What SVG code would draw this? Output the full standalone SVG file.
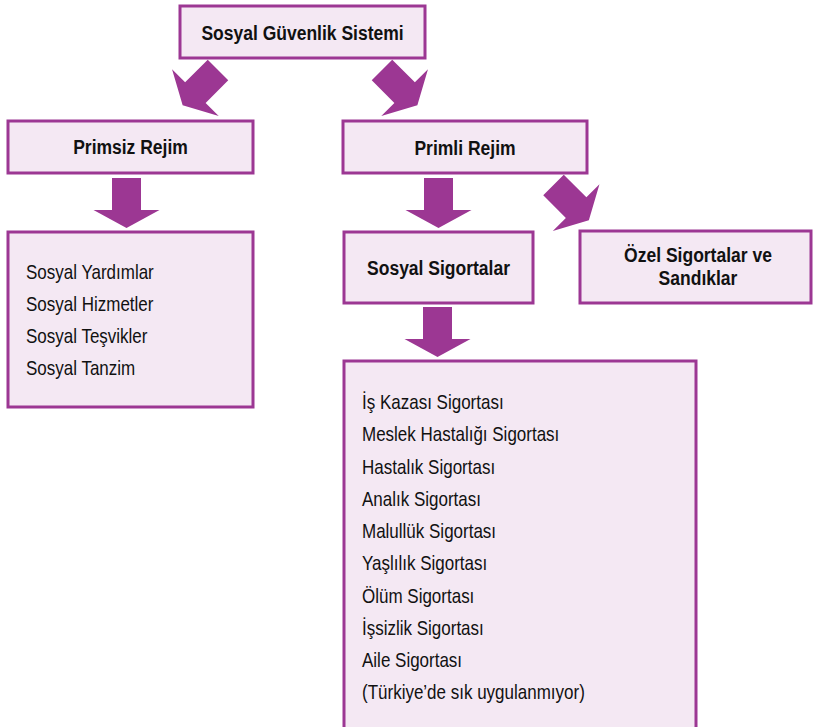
<svg xmlns="http://www.w3.org/2000/svg" xmlns:xlink="http://www.w3.org/1999/xlink" width="814" height="727" viewBox="0 0 814 727">
  <style>
    .box { fill: #f4e8f3; stroke: #9c3793; stroke-width: 3; }
    .arrow { fill: #9c3793; }
    .title { font-family: "Liberation Sans", Arial, sans-serif; font-size: 20px; font-weight: bold; fill: #111; text-anchor: middle; }
    .item { font-family: "Liberation Sans", Arial, sans-serif; font-size: 20px; fill: #111; }
  </style>
  <defs>
    <!-- block arrow pointing down, origin at the middle of the shaft top -->
    <polygon id="blockArrow" points="-14.5,0 14.5,0 14.5,32 33,32 0,50 -33,32 -14.5,32"/>
  </defs>

  <rect width="814" height="727" fill="#ffffff"/>

  <g id="connectors">
    <use xlink:href="#blockArrow" class="arrow" transform="translate(218 70) rotate(45)"/>
    <use xlink:href="#blockArrow" class="arrow" transform="translate(382 70) rotate(-45)"/>
    <use xlink:href="#blockArrow" class="arrow" transform="translate(126.5 178)"/>
    <use xlink:href="#blockArrow" class="arrow" transform="translate(438.5 178)"/>
    <use xlink:href="#blockArrow" class="arrow" transform="translate(553.5 185) rotate(-45)"/>
    <use xlink:href="#blockArrow" class="arrow" transform="translate(437.5 307)"/>
  </g>

  <g id="sosyal-guvenlik-sistemi">
    <rect class="box" x="180" y="6" width="245" height="52"/>
    <text class="title" transform="translate(302.5 40) scale(0.875 1)">Sosyal Güvenlik Sistemi</text>
  </g>

  <g id="primsiz-rejim">
    <rect class="box" x="8" y="121" width="245" height="52"/>
    <text class="title" transform="translate(130.5 154) scale(0.875 1)">Primsiz Rejim</text>
  </g>

  <g id="primli-rejim">
    <rect class="box" x="343" y="121" width="244" height="52"/>
    <text class="title" transform="translate(465 155) scale(0.875 1)">Primli Rejim</text>
  </g>

  <g id="primsiz-liste">
    <rect class="box" x="8" y="232" width="245" height="175"/>
    <text class="item" transform="translate(26 279) scale(0.85 1)">Sosyal Yardımlar</text>
    <text class="item" transform="translate(26 311) scale(0.85 1)">Sosyal Hizmetler</text>
    <text class="item" transform="translate(26 343) scale(0.85 1)">Sosyal Teşvikler</text>
    <text class="item" transform="translate(26 375) scale(0.85 1)">Sosyal Tanzim</text>
  </g>

  <g id="sosyal-sigortalar">
    <rect class="box" x="344" y="232" width="189" height="71"/>
    <text class="title" transform="translate(438.5 275) scale(0.875 1)">Sosyal Sigortalar</text>
  </g>

  <g id="ozel-sigortalar">
    <rect class="box" x="580" y="231" width="231" height="72"/>
    <text class="title" transform="translate(698 262) scale(0.875 1)">Özel Sigortalar ve</text>
    <text class="title" transform="translate(698 285) scale(0.875 1)">Sandıklar</text>
  </g>

  <g id="sigorta-kollari">
    <rect class="box" x="344" y="361" width="352" height="390"/>
    <text class="item" transform="translate(362 409) scale(0.85 1)">İş Kazası Sigortası</text>
    <text class="item" transform="translate(362 441) scale(0.85 1)">Meslek Hastalığı Sigortası</text>
    <text class="item" transform="translate(362 473.5) scale(0.85 1)">Hastalık Sigortası</text>
    <text class="item" transform="translate(362 506) scale(0.85 1)">Analık Sigortası</text>
    <text class="item" transform="translate(362 538) scale(0.85 1)">Malullük Sigortası</text>
    <text class="item" transform="translate(362 570) scale(0.85 1)">Yaşlılık Sigortası</text>
    <text class="item" transform="translate(362 602.5) scale(0.85 1)">Ölüm Sigortası</text>
    <text class="item" transform="translate(362 635) scale(0.85 1)">İşsizlik Sigortası</text>
    <text class="item" transform="translate(362 667) scale(0.85 1)">Aile Sigortası</text>
    <text class="item" transform="translate(362 699) scale(0.85 1)">(Türkiye’de sık uygulanmıyor)</text>
  </g>
</svg>
